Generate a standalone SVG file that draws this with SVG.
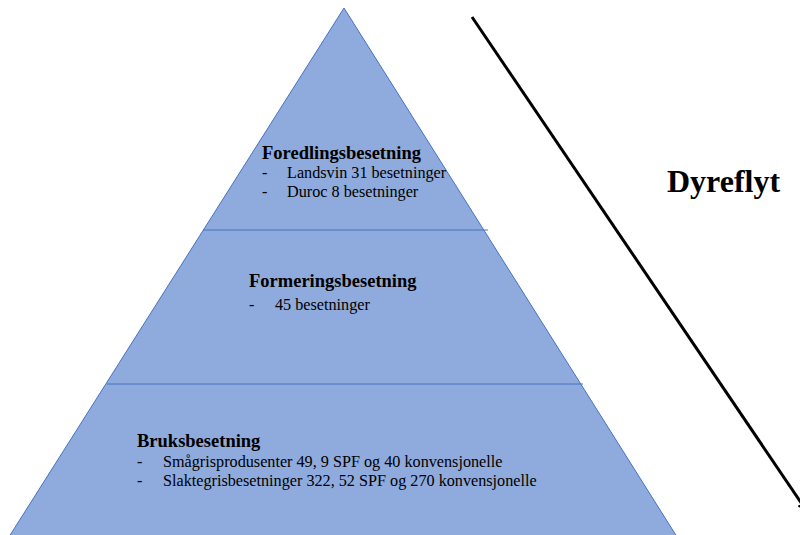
<svg xmlns="http://www.w3.org/2000/svg" width="800" height="535" viewBox="0 0 800 535">
<style>
.tri{fill:#8FAADC;stroke:#4472C4;stroke-width:1}
.div{stroke:#4472C4;stroke-width:1}
.h{font-family:"Liberation Serif","Times New Roman",serif;font-weight:bold;font-size:18.5px;fill:#000}
.t{font-family:"Liberation Serif","Times New Roman",serif;font-size:16.2px;fill:#000}
.big{font-family:"Liberation Serif","Times New Roman",serif;font-weight:bold;font-size:32px;fill:#000}
</style>
<defs>
<marker id="ah" markerWidth="10" markerHeight="10" refX="8" refY="5" orient="auto" markerUnits="userSpaceOnUse">
<path d="M0,0 L10,5 L0,10 z" fill="#000"/>
</marker>
</defs>
<rect width="800" height="535" fill="#fff"/>
<g id="pyramid">
<polygon class="tri" points="344,8 679,540 7,540"/>
</g>
<g id="connectors">
<line class="div" x1="203" y1="230" x2="488" y2="230"/>
<line class="div" x1="107" y1="384" x2="583" y2="384"/>
<line x1="472" y1="17" x2="806" y2="510" stroke="#000" stroke-width="3" marker-end="url(#ah)"/>
</g>
<g id="foredling">
<text class="h" x="262" y="159">Foredlingsbesetning</text>
<text class="t" x="262" y="178">-</text>
<text class="t" x="287" y="178">Landsvin 31 besetninger</text>
<text class="t" x="262" y="197">-</text>
<text class="t" x="287" y="197">Duroc 8 besetninger</text>
</g>
<g id="formering">
<text class="h" x="249" y="287">Formeringsbesetning</text>
<text class="t" x="249" y="310">-</text>
<text class="t" x="275" y="310">45 besetninger</text>
</g>
<g id="bruks">
<text class="h" x="137" y="447">Bruksbesetning</text>
<text class="t" x="137" y="467">-</text>
<text class="t" x="163" y="467">Smågrisprodusenter 49, 9 SPF og 40 konvensjonelle</text>
<text class="t" x="137" y="486">-</text>
<text class="t" x="163" y="486">Slaktegrisbesetninger 322, 52 SPF og 270 konvensjonelle</text>
</g>
<g id="dyreflyt">
<text class="big" x="667" y="192">Dyreflyt</text>
</g>
</svg>
